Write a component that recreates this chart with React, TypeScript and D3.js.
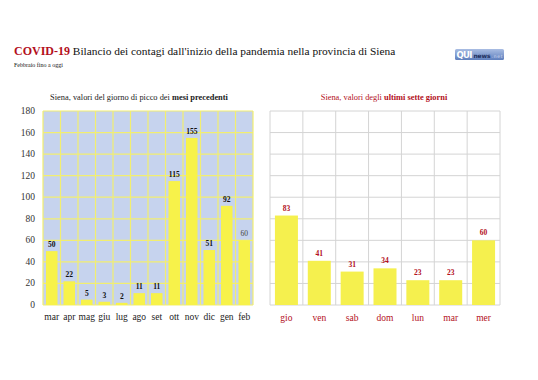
import React from "react";
import * as d3 from "d3";

const months = ["mar", "apr", "mag", "giu", "lug", "ago", "set", "ott", "nov", "dic", "gen", "feb"];
const monthPeaks = [50, 22, 5, 3, 2, 11, 11, 115, 155, 51, 92, 60];
const days = ["gio", "ven", "sab", "dom", "lun", "mar", "mer"];
const dayValues = [83, 41, 31, 34, 23, 23, 60];
const yTicks = [0, 20, 40, 60, 80, 100, 120, 140, 160, 180];

const RED = "#b3101c";
const FONT = "'Liberation Serif', 'DejaVu Serif', serif";

export default function App() {
  const W = 538, H = 380;
  const top = 111, bottom = 305;
  const y = d3.scaleLinear().domain([0, 180]).range([bottom, top]);

  const xL = d3.scaleBand<string>().domain(months).range([43, 253]).paddingInner(0.34).paddingOuter(0.17);
  const stepL = xL.step();
  const xR = d3.scaleBand<string>().domain(days).range([270, 500]).paddingInner(0.3).paddingOuter(0.15);
  const stepR = xR.step();

  return (
    <svg width={W} height={H} style={{ position: "absolute", left: 0, top: 0, background: "#fff" }} fontFamily={FONT}>
      <rect x={0} y={0} width={W} height={H} fill="#fff" />
      {/* title */}
      <text x={14} y={55} fontSize={11.4}>
        <tspan fill={RED} fontWeight="bold" fontSize={12}>COVID-19</tspan>
        <tspan fill="#111"> Bilancio dei contagi dall'inizio della pandemia nella provincia di Siena</tspan>
      </text>
      <text x={14} y={67} fontSize={6} fill="#111">Febbraio fino a oggi</text>
      {/* logo */}
      <defs>
        <linearGradient id="lg" x1="0" y1="0" x2="0" y2="1">
          <stop offset="0" stopColor="#a9bde3" />
          <stop offset="1" stopColor="#5f7fbd" />
        </linearGradient>
      </defs>
      <rect x={455} y={49} width={49} height={11} rx={1.5} fill="url(#lg)" />
      <text x={456.5} y={58.3} fontSize={8.5} fontFamily="'DejaVu Sans', sans-serif" fontWeight="bold" fill="#fff" textLength={16}>QUI</text>
      <text x={473.5} y={58} fontSize={6} fontFamily="'DejaVu Sans', sans-serif" fontWeight="bold" fill="#1d2f5e" textLength={17}>news</text>
      <text x={491.5} y={58} fontSize={4.5} fontFamily="'DejaVu Sans', sans-serif" fill="#d3ddf2" textLength={11}>.net</text>

      {/* left chart */}
      <text x={139} y={100} fontSize={8.4} textAnchor="middle" fill="#222">
        Siena, valori del giorno di picco dei <tspan fontWeight="bold">mesi precedenti</tspan>
      </text>
      <rect x={43} y={top} width={210} height={bottom - top} fill="#c6d3ee" />
      {yTicks.map((t) => (
        <line key={"hl" + t} x1={43} x2={253} y1={y(t)} y2={y(t)} stroke="#f2ee70" strokeWidth={1.2} />
      ))}
      {months.map((m, i) => (
        <line key={"vl" + m} x1={43 + i * stepL} x2={43 + i * stepL} y1={top} y2={bottom} stroke="#f2ee70" strokeWidth={1.2} />
      ))}
      <line x1={253} x2={253} y1={top} y2={bottom} stroke="#f2ee70" strokeWidth={1.2} />
      {yTicks.map((t) => (
        <text key={"yt" + t} x={35} y={y(t) + 3} fontSize={9.5} textAnchor="end" fill="#333">{t}</text>
      ))}
      {months.map((m, i) => (
        <g key={"b" + m}>
          <rect x={xL(m)} y={y(monthPeaks[i])} width={xL.bandwidth()} height={bottom - y(monthPeaks[i])} fill="#f7f24a" />
          <text x={xL(m)! + xL.bandwidth() / 2} y={y(monthPeaks[i]) - 4} fontSize={7.5} textAnchor="middle"
            fontWeight={i === months.length - 1 ? "normal" : "bold"} fill={i === months.length - 1 ? "#444" : "#111"}>
            {monthPeaks[i]}
          </text>
          <text x={xL(m)! + xL.bandwidth() / 2} y={320} fontSize={9.5} textAnchor="middle" fill="#222">{m}</text>
        </g>
      ))}

      {/* right chart */}
      <text x={384} y={100} fontSize={8.4} textAnchor="middle" fill={RED}>
        Siena, valori degli <tspan fontWeight="bold">ultimi sette giorni</tspan>
      </text>
      {yTicks.map((t) => (
        <line key={"rhl" + t} x1={270} x2={500} y1={y(t)} y2={y(t)} stroke="#d4d4d4" strokeWidth={1} />
      ))}
      {days.map((d, i) => (
        <line key={"rvl" + i} x1={270 + i * stepR} x2={270 + i * stepR} y1={top} y2={bottom} stroke="#d4d4d4" strokeWidth={1} />
      ))}
      <line x1={500} x2={500} y1={top} y2={bottom} stroke="#d4d4d4" strokeWidth={1} />
      {days.map((d, i) => (
        <g key={"rb" + i}>
          <rect x={xR(d)} y={y(dayValues[i])} width={xR.bandwidth()} height={bottom - y(dayValues[i])} fill="#f5f04e" />
          <text x={xR(d)! + xR.bandwidth() / 2} y={y(dayValues[i]) - 5} fontSize={7.5} textAnchor="middle" fontWeight="bold" fill={RED}>
            {dayValues[i]}
          </text>
          <text x={xR(d)! + xR.bandwidth() / 2} y={321} fontSize={9.5} textAnchor="middle" fill={RED}>{d}</text>
        </g>
      ))}
    </svg>
  );
}
